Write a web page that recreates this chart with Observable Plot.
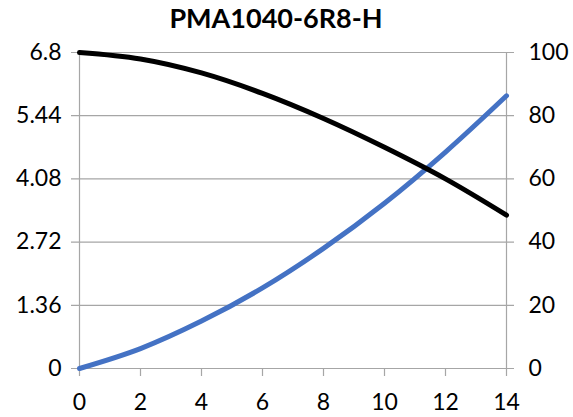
<!DOCTYPE html>
<html>
<head>
<meta charset="utf-8">
<script src="https://cdn.jsdelivr.net/npm/d3@7"></script>
<script src="https://cdn.jsdelivr.net/npm/@observablehq/plot@0.6"></script>
<style>
  html, body { margin: 0; padding: 0; background: #fff; }
  #wrap { width: 573px; height: 417px; position: relative; overflow: hidden; }
  #title { width: 573px; height: 38px; box-sizing: border-box; padding-right: 21px; padding-top: 3px;
           text-align: center; font-family: Lato, "Open Sans", sans-serif; font-weight: bold; font-size: 27px;
           line-height: 30px; color: #000; }
</style>
</head>
<body>
<div id="wrap">
  <div id="title">PMA1040-6R8-H</div>
  <div id="chart"></div>
</div>
<script>
const current = [0, 2, 4, 6, 8, 10, 12, 14];
const inductance = [6.8, 6.66, 6.36, 5.92, 5.38, 4.76, 4.08, 3.30];
const tempRise = [0, 6.3, 15.0, 25.5, 38.0, 52.3, 68.5, 86.3];
const leftTicks = [0, 1.36, 2.72, 4.08, 5.44, 6.8];
const rightTicks = [0, 20, 40, 60, 80, 100];
const xTicks = [0, 2, 4, 6, 8, 10, 12, 14];

const leftMax = 6.8, rightMax = 100;
const toLeft = v => v * leftMax / rightMax;

const indData = current.map((c, i) => ({c, v: inductance[i]}));
const tempData = current.map((c, i) => ({c, v: toLeft(tempRise[i])}));

const gridColor = "#a6a6a6";
const font = "Lato, 'Open Sans', sans-serif";

const plot = Plot.plot({
  width: 573,
  height: 379,
  marginLeft: 79,
  marginRight: 67,
  marginTop: 14,
  marginBottom: 49,
  style: {fontFamily: font, fontSize: "23px", color: "#000", background: "transparent", overflow: "visible"},
  x: {domain: [0, 14]},
  y: {domain: [0, leftMax]},
  marks: [
    Plot.gridY(leftTicks, {stroke: gridColor, strokeOpacity: 1, strokeWidth: 1.2, insetLeft: -8, insetRight: -8}),
    Plot.ruleX([0, 14], {stroke: gridColor, strokeWidth: 1.2}),
    Plot.axisY(leftTicks, {anchor: "left", tickSize: 0, tickPadding: 18, tickFormat: d => String(d), label: null, fill: "#000"}),
    Plot.axisY(rightTicks.map(toLeft), {anchor: "right", tickSize: 0, tickPadding: 22,
      tickFormat: d => String(Math.round(d * rightMax / leftMax)), label: null, fill: "#000"}),
    Plot.axisX(xTicks, {anchor: "bottom", tickSize: 8, tickPadding: 17, stroke: gridColor, strokeWidth: 1.2,
      tickFormat: d => String(d), label: null, fill: "#000"}),
    Plot.line(tempData, {x: "c", y: "v", stroke: "#4472C4", strokeWidth: 5, curve: "catmull-rom"}),
    Plot.line(indData, {x: "c", y: "v", stroke: "#000", strokeWidth: 5, curve: "catmull-rom"})
  ]
});
document.getElementById("chart").appendChild(plot);
</script>
</body>
</html>
